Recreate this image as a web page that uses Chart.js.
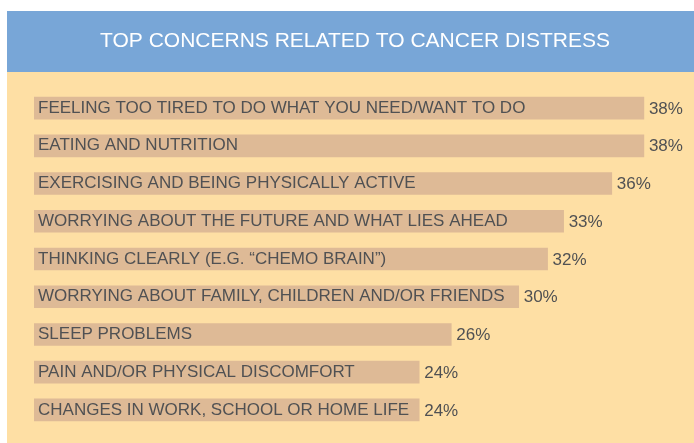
<!DOCTYPE html>
<html>
<head>
<meta charset="utf-8">
<script src="https://cdn.jsdelivr.net/npm/chart.js@4/dist/chart.umd.min.js"></script>
<style>
  html, body { margin: 0; padding: 0; background: #ffffff; }
  canvas { display: block; }
</style>
</head>
<body>
<canvas id="c" width="694" height="443"></canvas>
<script>
const titleText = 'TOP CONCERNS RELATED TO CANCER DISTRESS';
const categories = [
  'FEELING TOO TIRED TO DO WHAT YOU NEED/WANT TO DO',
  'EATING AND NUTRITION',
  'EXERCISING AND BEING PHYSICALLY ACTIVE',
  'WORRYING ABOUT THE FUTURE AND WHAT LIES AHEAD',
  'THINKING CLEARLY (E.G. \u201CCHEMO BRAIN\u201D)',
  'WORRYING ABOUT FAMILY, CHILDREN AND/OR FRIENDS',
  'SLEEP PROBLEMS',
  'PAIN AND/OR PHYSICAL DISCOMFORT',
  'CHANGES IN WORK, SCHOOL OR HOME LIFE'
];
const values = [38, 38, 36, 33, 32, 30.2, 26, 24, 24];
const valueLabels = ['38%', '38%', '36%', '33%', '32%', '30%', '26%', '24%', '24%'];

const FONT = 'Liberation Sans, Arial, Helvetica, sans-serif';
const TEXT = '#505153';

const panelPlugin = {
  id: 'panel',
  beforeDraw(chart) {
    const ctx = chart.ctx;
    ctx.save();
    ctx.fillStyle = '#ffffff';
    ctx.fillRect(0, 0, chart.width, chart.height);
    ctx.fillStyle = '#fedfa4';
    ctx.fillRect(7, 11, chart.width - 7, chart.height - 11);
    ctx.fillStyle = '#78a6d7';
    ctx.fillRect(7, 11, chart.width - 7, 61);
    ctx.restore();
  }
};

const valuePlugin = {
  id: 'values',
  afterDatasetsDraw(chart) {
    const ctx = chart.ctx;
    const meta = chart.getDatasetMeta(0);
    ctx.save();
    ctx.font = '17px ' + FONT;
    ctx.fillStyle = TEXT;
    ctx.textAlign = 'left';
    ctx.textBaseline = 'middle';
    meta.data.forEach((bar, i) => {
      ctx.fillText(valueLabels[i], bar.x + 5, bar.y + 1);
    });
    ctx.restore();
  }
};

new Chart(document.getElementById('c'), {
  type: 'bar',
  data: {
    labels: categories,
    datasets: [{
      data: values,
      backgroundColor: '#deba96',
      borderWidth: 0,
      barThickness: 22,
      categoryPercentage: 1
    }]
  },
  options: {
    indexAxis: 'y',
    responsive: false,
    animation: false,
    devicePixelRatio: 1,
    layout: { padding: { left: 26, right: 10, top: 11, bottom: 13 } },
    plugins: {
      legend: { display: false },
      tooltip: { enabled: false },
      title: {
        display: true,
        text: titleText,
        color: '#ffffff',
        font: { family: FONT, size: 21, weight: 'normal' },
        padding: { top: 18, bottom: 35 }
      }
    },
    scales: {
      x: { display: false, min: 0, max: 40.5 },
      y: {
        display: true,
        border: { display: false },
        grid: { display: false, drawTicks: false },
        ticks: {
          mirror: true,
          padding: 4,
          color: TEXT,
          font: { family: FONT, size: 17 },
          autoSkip: false,
          z: 1
        }
      }
    }
  },
  plugins: [panelPlugin, valuePlugin]
});
</script>
</body>
</html>
